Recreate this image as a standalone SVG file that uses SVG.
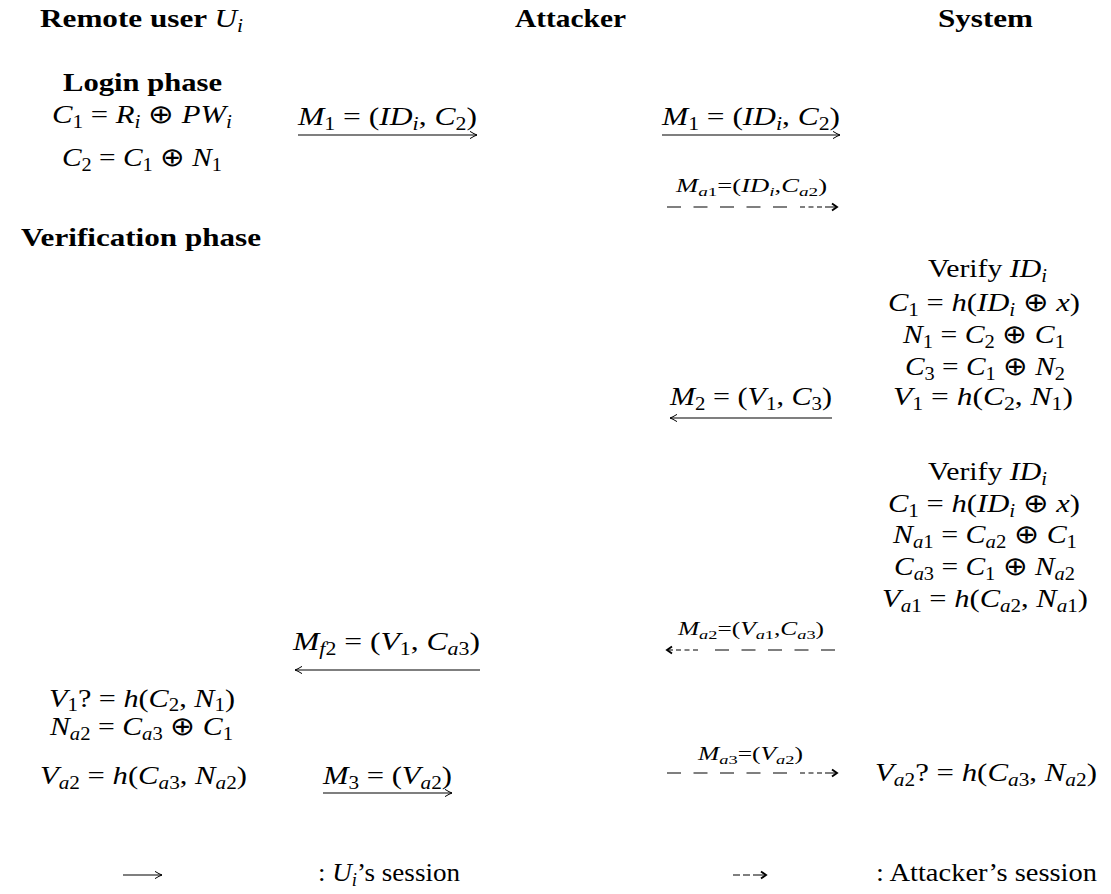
<svg xmlns="http://www.w3.org/2000/svg" width="1111" height="894" viewBox="0 0 1111 894">
<style>
.t{font-family:"Liberation Serif","Times New Roman",serif;font-size:26px;fill:#000}
.b{font-weight:bold}
.i{font-style:italic}
.n{font-weight:normal}
.sb{font-size:18px}
.sm{font-size:18px}
.ss{font-size:13px}
.ln{fill:none;stroke:#000;stroke-width:1.1}
.dl{fill:none;stroke:#000;stroke-width:1.1;stroke-dasharray:14 12.5}
.ds{fill:none;stroke:#000;stroke-width:1.1;stroke-dasharray:5 3.5 5 3.5 5 3 13}
</style>
<defs>
<marker id="ah" markerUnits="userSpaceOnUse" viewBox="-9 -5 10 10" refX="0" refY="0" markerWidth="10" markerHeight="10" orient="auto" overflow="visible">
<path d="M-7,-3.6 Q-2.5,-0.8 0,0 Q-2.5,0.8 -7,3.6" fill="none" stroke="#000" stroke-width="1"/>
</marker>
<marker id="dh" markerUnits="userSpaceOnUse" viewBox="-9 -5 10 10" refX="0" refY="0" markerWidth="10" markerHeight="10" orient="auto" overflow="visible">
<path d="M-5,-3.5 L0,0 L-5,3.5" fill="none" stroke="#000" stroke-width="1.9"/>
</marker>
</defs>
<rect width="1111" height="894" fill="#fff"/>

<g id="hdr-user"><text class="t b" x="40" y="27" textLength="203" lengthAdjust="spacingAndGlyphs">Remote user <tspan class="i n">U</tspan><tspan class="sb i n" dy="5">i</tspan></text></g>
<g id="hdr-attacker"><text class="t b" x="515" y="27" textLength="111" lengthAdjust="spacingAndGlyphs">Attacker</text></g>
<g id="hdr-system"><text class="t b" x="938" y="27" textLength="95" lengthAdjust="spacingAndGlyphs">System</text></g>

<g id="login">
<text class="t b" x="63" y="91" textLength="159" lengthAdjust="spacingAndGlyphs">Login phase</text>
<text class="t" x="52" y="123" textLength="180" lengthAdjust="spacingAndGlyphs"><tspan class="i">C</tspan><tspan class="sb" dy="5">1</tspan><tspan dy="-5"> = </tspan><tspan class="i">R</tspan><tspan class="sb i" dy="5">i</tspan><tspan dy="-5"> ⊕ </tspan><tspan class="i">PW</tspan><tspan class="sb i" dy="5">i</tspan></text>
<text class="t" x="62" y="166" textLength="160" lengthAdjust="spacingAndGlyphs"><tspan class="i">C</tspan><tspan class="sb" dy="5">2</tspan><tspan dy="-5"> = </tspan><tspan class="i">C</tspan><tspan class="sb" dy="5">1</tspan><tspan dy="-5"> ⊕ </tspan><tspan class="i">N</tspan><tspan class="sb" dy="5">1</tspan></text>
</g>

<g id="verification-title"><text class="t b" x="21" y="246" textLength="240" lengthAdjust="spacingAndGlyphs">Verification phase</text></g>

<g id="system-verify-1">
<text class="t" x="928" y="277" textLength="119" lengthAdjust="spacingAndGlyphs">Verify <tspan class="i">ID</tspan><tspan class="sb i" dy="5">i</tspan></text>
<text class="t" x="888" y="311" textLength="192" lengthAdjust="spacingAndGlyphs"><tspan class="i">C</tspan><tspan class="sb" dy="5">1</tspan><tspan dy="-5"> = </tspan><tspan class="i">h</tspan>(<tspan class="i">ID</tspan><tspan class="sb i" dy="5">i</tspan><tspan dy="-5"> ⊕ </tspan><tspan class="i">x</tspan>)</text>
<text class="t" x="903" y="343" textLength="162" lengthAdjust="spacingAndGlyphs"><tspan class="i">N</tspan><tspan class="sb" dy="5">1</tspan><tspan dy="-5"> = </tspan><tspan class="i">C</tspan><tspan class="sb" dy="5">2</tspan><tspan dy="-5"> ⊕ </tspan><tspan class="i">C</tspan><tspan class="sb" dy="5">1</tspan></text>
<text class="t" x="905" y="375" textLength="160" lengthAdjust="spacingAndGlyphs"><tspan class="i">C</tspan><tspan class="sb" dy="5">3</tspan><tspan dy="-5"> = </tspan><tspan class="i">C</tspan><tspan class="sb" dy="5">1</tspan><tspan dy="-5"> ⊕ </tspan><tspan class="i">N</tspan><tspan class="sb" dy="5">2</tspan></text>
<text class="t" x="893" y="405" textLength="180" lengthAdjust="spacingAndGlyphs"><tspan class="i">V</tspan><tspan class="sb" dy="5">1</tspan><tspan dy="-5"> = </tspan><tspan class="i">h</tspan>(<tspan class="i">C</tspan><tspan class="sb" dy="5">2</tspan><tspan dy="-5">, </tspan><tspan class="i">N</tspan><tspan class="sb" dy="5">1</tspan><tspan dy="-5">)</tspan></text>
</g>

<g id="system-verify-2">
<text class="t" x="928" y="480" textLength="119" lengthAdjust="spacingAndGlyphs">Verify <tspan class="i">ID</tspan><tspan class="sb i" dy="5">i</tspan></text>
<text class="t" x="888" y="512" textLength="192" lengthAdjust="spacingAndGlyphs"><tspan class="i">C</tspan><tspan class="sb" dy="5">1</tspan><tspan dy="-5"> = </tspan><tspan class="i">h</tspan>(<tspan class="i">ID</tspan><tspan class="sb i" dy="5">i</tspan><tspan dy="-5"> ⊕ </tspan><tspan class="i">x</tspan>)</text>
<text class="t" x="893" y="543" textLength="184" lengthAdjust="spacingAndGlyphs"><tspan class="i">N</tspan><tspan class="sb" dy="5"><tspan class="i">a</tspan>1</tspan><tspan dy="-5"> = </tspan><tspan class="i">C</tspan><tspan class="sb" dy="5"><tspan class="i">a</tspan>2</tspan><tspan dy="-5"> ⊕ </tspan><tspan class="i">C</tspan><tspan class="sb" dy="5">1</tspan></text>
<text class="t" x="894" y="575" textLength="181" lengthAdjust="spacingAndGlyphs"><tspan class="i">C</tspan><tspan class="sb" dy="5"><tspan class="i">a</tspan>3</tspan><tspan dy="-5"> = </tspan><tspan class="i">C</tspan><tspan class="sb" dy="5">1</tspan><tspan dy="-5"> ⊕ </tspan><tspan class="i">N</tspan><tspan class="sb" dy="5"><tspan class="i">a</tspan>2</tspan></text>
<text class="t" x="882" y="607" textLength="206" lengthAdjust="spacingAndGlyphs"><tspan class="i">V</tspan><tspan class="sb" dy="5"><tspan class="i">a</tspan>1</tspan><tspan dy="-5"> = </tspan><tspan class="i">h</tspan>(<tspan class="i">C</tspan><tspan class="sb" dy="5"><tspan class="i">a</tspan>2</tspan><tspan dy="-5">, </tspan><tspan class="i">N</tspan><tspan class="sb" dy="5"><tspan class="i">a</tspan>1</tspan><tspan dy="-5">)</tspan></text>
</g>

<g id="user-check">
<text class="t" x="49" y="707" textLength="186" lengthAdjust="spacingAndGlyphs"><tspan class="i">V</tspan><tspan class="sb" dy="4">1</tspan><tspan dy="-4">? = </tspan><tspan class="i">h</tspan>(<tspan class="i">C</tspan><tspan class="sb" dy="4">2</tspan><tspan dy="-4">, </tspan><tspan class="i">N</tspan><tspan class="sb" dy="4">1</tspan><tspan dy="-4">)</tspan></text>
<text class="t" x="50" y="735" textLength="183" lengthAdjust="spacingAndGlyphs"><tspan class="i">N</tspan><tspan class="sb" dy="5"><tspan class="i">a</tspan>2</tspan><tspan dy="-5"> = </tspan><tspan class="i">C</tspan><tspan class="sb" dy="5"><tspan class="i">a</tspan>3</tspan><tspan dy="-5"> ⊕ </tspan><tspan class="i">C</tspan><tspan class="sb" dy="5">1</tspan></text>
<text class="t" x="40" y="784" textLength="207" lengthAdjust="spacingAndGlyphs"><tspan class="i">V</tspan><tspan class="sb" dy="5"><tspan class="i">a</tspan>2</tspan><tspan dy="-5"> = </tspan><tspan class="i">h</tspan>(<tspan class="i">C</tspan><tspan class="sb" dy="5"><tspan class="i">a</tspan>3</tspan><tspan dy="-5">, </tspan><tspan class="i">N</tspan><tspan class="sb" dy="5"><tspan class="i">a</tspan>2</tspan><tspan dy="-5">)</tspan></text>
</g>

<g id="system-check">
<text class="t" x="875" y="781" textLength="222" lengthAdjust="spacingAndGlyphs"><tspan class="i">V</tspan><tspan class="sb" dy="5"><tspan class="i">a</tspan>2</tspan><tspan dy="-5">? = </tspan><tspan class="i">h</tspan>(<tspan class="i">C</tspan><tspan class="sb" dy="5"><tspan class="i">a</tspan>3</tspan><tspan dy="-5">, </tspan><tspan class="i">N</tspan><tspan class="sb" dy="5"><tspan class="i">a</tspan>2</tspan><tspan dy="-5">)</tspan></text>
</g>

<g id="connectors">
<path class="ln" d="M298,135 H477" marker-end="url(#ah)"/>
<text class="t" x="298" y="125" textLength="179" lengthAdjust="spacingAndGlyphs"><tspan class="i">M</tspan><tspan class="sb" dy="5">1</tspan><tspan dy="-5"> = (</tspan><tspan class="i">ID</tspan><tspan class="sb i" dy="5">i</tspan><tspan dy="-5">, </tspan><tspan class="i">C</tspan><tspan class="sb" dy="5">2</tspan><tspan dy="-5">)</tspan></text>

<path class="ln" d="M662,135 H840" marker-end="url(#ah)"/>
<text class="t" x="662" y="125" textLength="178" lengthAdjust="spacingAndGlyphs"><tspan class="i">M</tspan><tspan class="sb" dy="5">1</tspan><tspan dy="-5"> = (</tspan><tspan class="i">ID</tspan><tspan class="sb i" dy="5">i</tspan><tspan dy="-5">, </tspan><tspan class="i">C</tspan><tspan class="sb" dy="5">2</tspan><tspan dy="-5">)</tspan></text>

<path class="dl" d="M667,207 H787"/>
<path class="ds" d="M800,207 H837" marker-end="url(#dh)"/>
<text class="t sm" x="676" y="192" textLength="151" lengthAdjust="spacingAndGlyphs"><tspan class="i">M</tspan><tspan class="ss" dy="4"><tspan class="i">a</tspan>1</tspan><tspan dy="-4">=(</tspan><tspan class="i">ID</tspan><tspan class="ss i" dy="4">i</tspan><tspan dy="-4">,</tspan><tspan class="i">C</tspan><tspan class="ss" dy="4"><tspan class="i">a</tspan>2</tspan><tspan dy="-4">)</tspan></text>

<path class="ln" d="M832,418 H670" marker-end="url(#ah)"/>
<text class="t" x="670" y="405" textLength="162" lengthAdjust="spacingAndGlyphs"><tspan class="i">M</tspan><tspan class="sb" dy="5">2</tspan><tspan dy="-5"> = (</tspan><tspan class="i">V</tspan><tspan class="sb" dy="5">1</tspan><tspan dy="-5">, </tspan><tspan class="i">C</tspan><tspan class="sb" dy="5">3</tspan><tspan dy="-5">)</tspan></text>

<path class="dl" d="M835,650 H715"/>
<path class="ds" d="M698,650 H667" marker-end="url(#dh)"/>
<text class="t sm" x="678" y="635" textLength="146" lengthAdjust="spacingAndGlyphs"><tspan class="i">M</tspan><tspan class="ss" dy="4"><tspan class="i">a</tspan>2</tspan><tspan dy="-4">=(</tspan><tspan class="i">V</tspan><tspan class="ss" dy="4"><tspan class="i">a</tspan>1</tspan><tspan dy="-4">,</tspan><tspan class="i">C</tspan><tspan class="ss" dy="4"><tspan class="i">a</tspan>3</tspan><tspan dy="-4">)</tspan></text>

<path class="ln" d="M480,670 H295" marker-end="url(#ah)"/>
<text class="t" x="293" y="650" textLength="187" lengthAdjust="spacingAndGlyphs"><tspan class="i">M</tspan><tspan class="sb" dy="5"><tspan class="i">f</tspan>2</tspan><tspan dy="-5"> = (</tspan><tspan class="i">V</tspan><tspan class="sb" dy="5">1</tspan><tspan dy="-5">, </tspan><tspan class="i">C</tspan><tspan class="sb" dy="5"><tspan class="i">a</tspan>3</tspan><tspan dy="-5">)</tspan></text>

<path class="ln" d="M323,793 H452" marker-end="url(#ah)"/>
<text class="t" x="323" y="784" textLength="129" lengthAdjust="spacingAndGlyphs"><tspan class="i">M</tspan><tspan class="sb" dy="5">3</tspan><tspan dy="-5"> = (</tspan><tspan class="i">V</tspan><tspan class="sb" dy="5"><tspan class="i">a</tspan>2</tspan><tspan dy="-5">)</tspan></text>

<path class="dl" d="M667,773 H787"/>
<path class="ds" d="M800,773 H837" marker-end="url(#dh)"/>
<text class="t sm" x="698" y="760" textLength="105" lengthAdjust="spacingAndGlyphs"><tspan class="i">M</tspan><tspan class="ss" dy="4"><tspan class="i">a</tspan>3</tspan><tspan dy="-4">=(</tspan><tspan class="i">V</tspan><tspan class="ss" dy="4"><tspan class="i">a</tspan>2</tspan><tspan dy="-4">)</tspan></text>
</g>

<g id="legend">
<path class="ln" d="M123,875 H162" marker-end="url(#ah)"/>
<text class="t" x="318" y="881" textLength="142" lengthAdjust="spacingAndGlyphs">: <tspan class="i">U</tspan><tspan class="sb i" dy="5">i</tspan><tspan dy="-5">’s session</tspan></text>
<path class="ln" d="M733,875 H766" style="stroke-dasharray:7 3 7 3 20" marker-end="url(#dh)"/>
<text class="t" x="876" y="881" textLength="221" lengthAdjust="spacingAndGlyphs">:  Attacker’s session</text>
</g>
</svg>
